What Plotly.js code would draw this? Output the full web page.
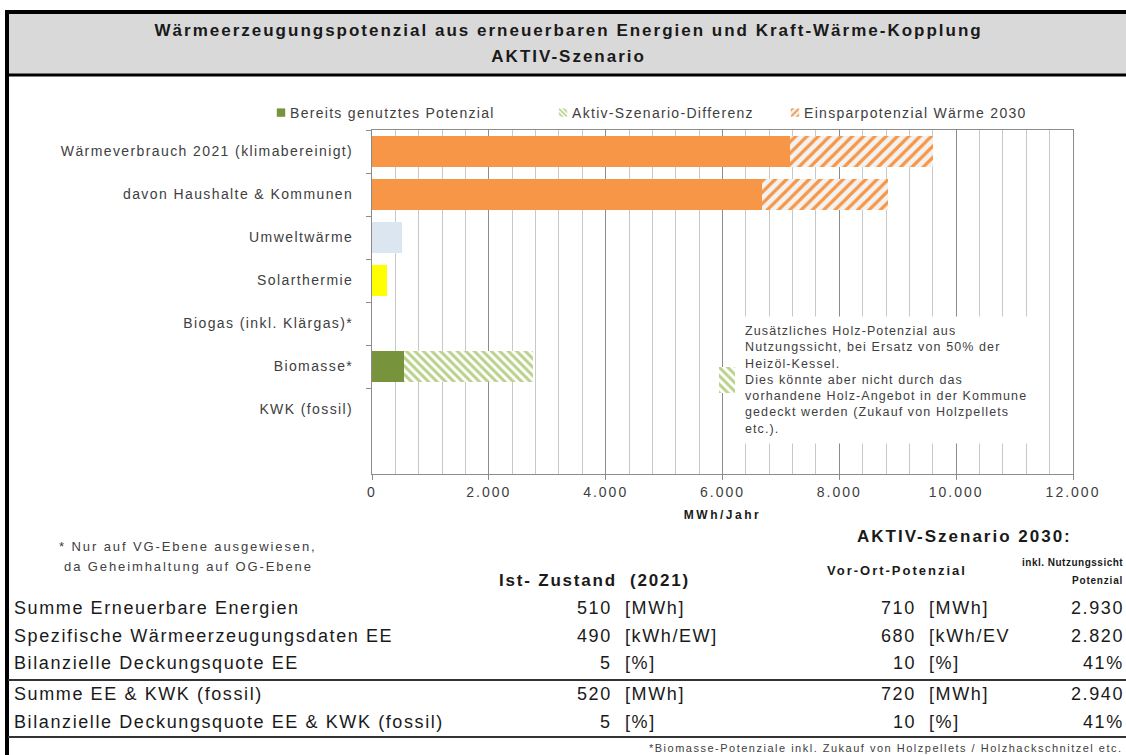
<!DOCTYPE html>
<html>
<head>
<meta charset="utf-8">
<script src="https://cdn.plot.ly/plotly-3.0.1.min.js"></script>
<style>
html, body { margin: 0; padding: 0; background: #fff; }
#chart { width: 1126px; height: 755px; }
#chart .gtitle, #chart .gtitle-subtitle { letter-spacing: 2px; }
#chart .gtitle-subtitle { transform: translateY(-11px); }
#chart .ytick text { letter-spacing: 1.4px; }
#chart .xtick text { letter-spacing: 2px; }
#chart .xtitle { letter-spacing: 2.5px; }
#chart .legendpoints path { transform: translate(31px, 0px) scale(0.7) !important; }
</style>
</head>
<body>
<div id="chart"></div>
<script>
// ---------- Data ----------
const categories = [
  'Wärmeverbrauch 2021 (klimabereinigt)',
  'davon Haushalte & Kommunen',
  'Umweltwärme',
  'Solarthermie',
  'Biogas (inkl. Klärgas)*',
  'Biomasse*',
  'KWK (fossil)'
];
const verbrauchNachEinsparung = [7160, 6670, null, null, null, null, null];
const einsparpotenzial2030   = [2440, 2170, null, null, null, null, null];
const umweltwaerme           = [null, null, 520, null, null, null, null];
const solarthermie           = [null, null, null, 250, null, null, null];
const bereitsGenutzt         = [null, null, null, null, null, 540, null];
const aktivDifferenz         = [null, null, null, null, null, 2210, null];

const legendNames = ['Bereits genutztes Potenzial', 'Aktiv-Szenario-Differenz', 'Einsparpotenzial Wärme 2030'];

const tableRows = [
  'Summe Erneuerbare Energien',
  'Spezifische Wärmeerzeugungsdaten EE',
  'Bilanzielle Deckungsquote EE',
  'Summe EE & KWK (fossil)',
  'Bilanzielle Deckungsquote EE & KWK (fossil)'
];
const istWerte        = ['510', '490', '5', '520', '5'];
const istEinheiten    = ['[MWh]', '[kWh/EW]', '[%]', '[MWh]', '[%]'];
const vorOrtWerte     = ['710', '680', '10', '720', '10'];
const vorOrtEinheiten = ['[MWh]', '[kWh/EV', '[%]', '[MWh]', '[%]'];
const nutzungWerte    = ['2.930', '2.820', '41%', '2.940', '41%'];

const noteLines = [
  'Zusätzliches Holz-Potenzial aus',
  'Nutzungssicht, bei Ersatz von 50% der',
  'Heizöl-Kessel.',
  'Dies könnte aber nicht durch das',
  'vorhandene Holz-Angebot in der Kommune',
  'gedeckt werden (Zukauf von Holzpellets',
  'etc.).'
];

// ---------- Layout helpers (pixel -> paper) ----------
const W = 1126, H = 755;
const PL = 372, PR = 1073, PT = 130, PB = 474;
const px = v => (v - PL) / (PR - PL);
const py = v => (PB - v) / (PB - PT);
const sp = (t, ls) => `<span style="letter-spacing:${ls}px">${t}</span>`;

const FONT = 'Liberation Sans, Arial, sans-serif';
const TXT = '#404040';

const orange = '#f79646';
const darkGreen = '#77933c';
const lightGreen = '#b9d18a';

const traces = [
  { type: 'bar', orientation: 'h', y: categories, x: verbrauchNachEinsparung,
    marker: { color: orange }, showlegend: false, name: 'Wärmeverbrauch' },
  { type: 'bar', orientation: 'h', y: categories, x: einsparpotenzial2030,
    marker: { color: '#f2f2f2', pattern: { shape: '/', fgcolor: orange, bgcolor: '#f2f2f2', size: 8, solidity: 0.4 } },
    name: sp(legendNames[2], 1.3), legend: 'legend3' },
  { type: 'bar', orientation: 'h', y: categories, x: umweltwaerme,
    marker: { color: '#dce6f1' }, showlegend: false, name: 'Umweltwärme' },
  { type: 'bar', orientation: 'h', y: categories, x: solarthermie,
    marker: { color: '#ffff00' }, showlegend: false, name: 'Solarthermie' },
  { type: 'bar', orientation: 'h', y: categories, x: bereitsGenutzt,
    marker: { color: darkGreen }, name: sp(legendNames[0], 1.3), legend: 'legend' },
  { type: 'bar', orientation: 'h', y: categories, x: aktivDifferenz,
    marker: { color: '#ffffff', pattern: { shape: '\\', fgcolor: lightGreen, bgcolor: '#ffffff', size: 6, solidity: 0.5 } },
    name: sp(legendNames[1], 1.3), legend: 'legend2' },
  // small key square next to the note
  { type: 'bar', orientation: 'h', x: [1], y: ['k'], width: [1], xaxis: 'x2', yaxis: 'y2',
    marker: { color: '#ffffff', pattern: { shape: '\\', fgcolor: lightGreen, bgcolor: '#ffffff', size: 6, solidity: 0.5 } },
    showlegend: false, hoverinfo: 'skip' }
];

const annotations = [];
const addText = (text, x, y, opts = {}) => {
  annotations.push(Object.assign({
    text, x: px(x), y: py(y), xref: 'paper', yref: 'paper',
    showarrow: false, xanchor: 'left', yanchor: 'middle',
    font: { family: FONT, size: 18, color: '#1a1a1a' }
  }, opts));
};

// Note box
annotations.push({
  text: noteLines.map(l => sp(l, 1.1)).join('<br>'), x: px(737), y: py(316), xref: 'paper', yref: 'paper',
  xanchor: 'left', yanchor: 'top', align: 'left', showarrow: false,
  bgcolor: '#ffffff', borderpad: 7,
  font: { family: FONT, size: 12.5, color: TXT }
});

// footnote left
addText(sp('* Nur auf VG-Ebene ausgewiesen,', 1.9), 57, 546, { font: { family: FONT, size: 13, color: TXT } });
addText(sp('da Geheimhaltung auf OG-Ebene', 1.9), 62, 566, { font: { family: FONT, size: 13, color: TXT } });

// headers
addText(sp('<b>AKTIV-Szenario 2030:</b>', 2), 855, 536, { font: { family: FONT, size: 17, color: '#1a1a1a' } });
addText(sp('<b>Ist- Zustand  (2021)</b>', 1.8), 497, 580, { font: { family: FONT, size: 17, color: '#1a1a1a' } });
addText(sp('<b>Vor-Ort-Potenzial</b>', 2), 825, 570, { font: { family: FONT, size: 13, color: '#1a1a1a' } });
addText(sp('<b>inkl. Nutzungssicht</b>', 0.5), 1125, 562, { xanchor: 'right', font: { family: FONT, size: 10, color: '#1a1a1a' } });
addText(sp('<b>Potenzial</b>', 0.8), 1125, 580, { xanchor: 'right', font: { family: FONT, size: 10, color: '#1a1a1a' } });

// table rows
const rowY = [608, 636, 663, 694, 722];
tableRows.forEach((r, i) => {
  addText(sp(r, 1.6), 12, rowY[i]);
  addText(sp(istWerte[i], 1.6), 614, rowY[i], { xanchor: 'right' });
  addText(sp(istEinheiten[i], 1.6), 623, rowY[i]);
  addText(sp(vorOrtWerte[i], 1.6), 918, rowY[i], { xanchor: 'right' });
  addText(sp(vorOrtEinheiten[i], 1.6), 927, rowY[i]);
  addText(sp(nutzungWerte[i], 1.6), 1126, rowY[i], { xanchor: 'right' });
});

addText(sp('*Biomasse-Potenziale inkl. Zukauf von Holzpellets / Holzhackschnitzel etc.', 1.5), 1125, 748,
  { xanchor: 'right', font: { family: FONT, size: 11, color: TXT } });

const shapes = [
  // gray header band
  { type: 'rect', xref: 'paper', yref: 'paper', x0: px(8), x1: px(1130), y0: py(75), y1: py(12),
    fillcolor: '#d9d9d9', line: { width: 0 }, layer: 'below' },
  { type: 'line', xref: 'paper', yref: 'paper', x0: px(6), x1: px(1130), y0: py(12), y1: py(12),
    line: { color: '#000', width: 4 } },
  { type: 'line', xref: 'paper', yref: 'paper', x0: px(6), x1: px(1130), y0: py(75), y1: py(75),
    line: { color: '#000', width: 3 } },
  { type: 'line', xref: 'paper', yref: 'paper', x0: px(7), x1: px(7), y0: py(10), y1: py(760),
    line: { color: '#000', width: 4 } },
  // table separators
  { type: 'line', xref: 'paper', yref: 'paper', x0: px(8), x1: px(1130), y0: py(680), y1: py(680),
    line: { color: '#333', width: 2 } },
  { type: 'line', xref: 'paper', yref: 'paper', x0: px(8), x1: px(1130), y0: py(737), y1: py(737),
    line: { color: '#333', width: 2 } }
];

const legendBase = { orientation: 'h', yanchor: 'middle', y: py(113), xanchor: 'left',
  bgcolor: 'rgba(0,0,0,0)', borderwidth: 0, font: { family: FONT, size: 14, color: TXT } };

const layout = {
  width: W, height: H,
  margin: { l: PL, r: W - PR, t: PT, b: H - PB, pad: 0 },
  paper_bgcolor: '#ffffff', plot_bgcolor: 'rgba(0,0,0,0)',
  separators: ',.',
  font: { family: FONT, color: TXT },
  title: {
    text: '<b>Wärmeerzeugungspotenzial aus erneuerbaren Energien und Kraft-Wärme-Kopplung</b>',
    subtitle: { text: '<b>AKTIV-Szenario</b>', font: { family: FONT, size: 17, color: '#1a1a1a' } },
    x: 0.505, xanchor: 'center', y: 1 - 30 / H, yanchor: 'middle',
    font: { family: FONT, size: 17, color: '#1a1a1a' }
  },
  barmode: 'stack', bargap: 0.3,
  xaxis: {
    range: [0, 12000], dtick: 2000, tick0: 0, tickformat: ',d',
    showgrid: true, gridcolor: '#8c8c8c', gridwidth: 1,
    minor: { dtick: 400, showgrid: true, gridcolor: '#c8c8c8', gridwidth: 1 },
    showline: true, mirror: true, linecolor: '#8c8c8c', linewidth: 1,
    ticks: 'outside', ticklen: 5, tickcolor: '#8c8c8c',
    tickfont: { family: FONT, size: 14, color: TXT }, zeroline: false,
    title: { text: '<b>MWh/Jahr</b>', standoff: 11, font: { family: FONT, size: 12, color: '#1a1a1a' } },
    fixedrange: true
  },
  yaxis: {
    type: 'category', categoryorder: 'array', categoryarray: categories,
    range: [7.5, -0.5], showgrid: false, zeroline: false,
    showline: true, mirror: true, linecolor: '#8c8c8c', linewidth: 1,
    ticks: 'outside', ticklen: 5, tickcolor: '#8c8c8c', tickson: 'boundaries',
    ticklabelstandoff: 15,
    tickfont: { family: FONT, size: 14, color: TXT }, fixedrange: true
  },
  xaxis2: { domain: [px(719), px(735)], anchor: 'y2', range: [0, 1], visible: false, fixedrange: true },
  yaxis2: { domain: [py(393), py(367)], anchor: 'x2', type: 'category', visible: false, fixedrange: true },
  legend:  Object.assign({}, legendBase, { x: px(250) }),
  legend2: Object.assign({}, legendBase, { x: px(532) }),
  legend3: Object.assign({}, legendBase, { x: px(764) }),
  annotations, shapes,
  showlegend: true
};

Plotly.newPlot('chart', traces, layout, { staticPlot: true, displayModeBar: false });
</script>
</body>
</html>
